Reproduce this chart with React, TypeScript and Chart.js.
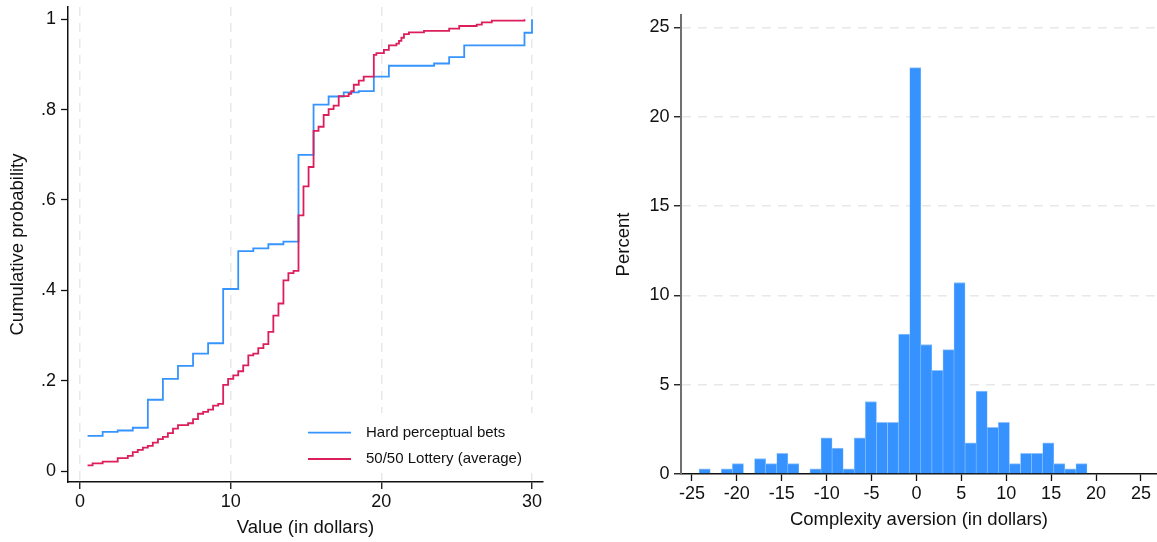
import { useEffect, useRef } from "react";
import { Chart, registerables } from "chart.js";

Chart.register(...registerables);

const FONT = "'Liberation Sans', Arial, Helvetica, sans-serif";
const INK = "#111111";
const BLUE = "#3594fd";
const RED = "#dc1e5b";
const BAR_FILL = "#3592ff";
const BAR_EDGE = "#8fc3ff";
const GRID = "#e8e8e8";

// ---- Left panel: empirical CDFs ----
const hardX = [0.5, 1.5, 2.5, 3.5, 4.5, 5.5, 6.5, 7.5, 8.5, 9.5, 10.5, 11.5, 12.5, 13.5, 14.5, 15.5, 16.5, 17.5, 18.5, 19.5, 20.5, 23.5, 24.5, 25.5, 29.5, 30];
const hardY = [0.078, 0.087, 0.09, 0.096, 0.158, 0.204, 0.233, 0.26, 0.283, 0.403, 0.487, 0.493, 0.502, 0.508, 0.7, 0.811, 0.829, 0.838, 0.841, 0.873, 0.897, 0.902, 0.916, 0.942, 0.97, 1.0];

const lotteryX = [0.5, 0.83, 1.5, 2.5, 3.17, 3.5, 3.83, 4.17, 4.5, 4.83, 5.17, 5.5, 5.83, 6.17, 6.5, 7.17, 7.5, 7.83, 8.17, 8.5, 8.83, 9.17, 9.5, 9.83, 10.17, 10.5, 10.83, 11.17, 11.5, 11.83, 12.17, 12.5, 12.83, 13.17, 13.5, 13.83, 14.17, 14.5, 14.83, 15.17, 15.5, 15.83, 16.17, 16.5, 16.83, 17.17, 17.83, 18.0, 18.17, 18.5, 18.83, 19.5, 19.67, 20.17, 20.5, 21.0, 21.17, 21.33, 21.5, 21.83, 22.83, 24.5, 25.17, 26.33, 26.67, 27.33, 29.5];
const lotteryY = [0.013, 0.017, 0.021, 0.029, 0.034, 0.042, 0.047, 0.052, 0.056, 0.063, 0.071, 0.076, 0.084, 0.094, 0.102, 0.106, 0.115, 0.127, 0.131, 0.136, 0.145, 0.149, 0.191, 0.204, 0.212, 0.221, 0.234, 0.256, 0.26, 0.272, 0.281, 0.308, 0.344, 0.371, 0.422, 0.438, 0.443, 0.566, 0.63, 0.673, 0.753, 0.762, 0.788, 0.801, 0.809, 0.83, 0.835, 0.841, 0.855, 0.864, 0.873, 0.921, 0.925, 0.932, 0.942, 0.946, 0.952, 0.959, 0.967, 0.971, 0.974, 0.979, 0.985, 0.988, 0.993, 0.997, 1.0];

const seriesLabels = ["Hard perceptual bets", "50/50 Lottery (average)"];
const cdfXTicks = [0, 10, 20, 30];
const cdfYTicks = [0, 0.2, 0.4, 0.6, 0.8, 1];
const cdfYTickLabels = ["0", ".2", ".4", ".6", ".8", "1"];

// ---- Right panel: histogram ----
const binCenters = [-23.58, -22.35, -21.11, -19.88, -18.65, -17.41, -16.18, -14.94, -13.71, -12.47, -11.24, -10.01, -8.77, -7.54, -6.3, -5.07, -3.84, -2.6, -1.37, -0.13, 1.1, 2.34, 3.57, 4.8, 6.04, 7.27, 8.51, 9.74, 10.97, 12.21, 13.44, 14.68, 15.91, 17.14, 18.38];
const binPercents = [0.29, 0, 0.29, 0.58, 0, 0.87, 0.58, 1.16, 0.58, 0, 0.29, 2.03, 1.45, 0.29, 2.03, 4.06, 2.9, 2.9, 7.83, 22.75, 7.25, 5.8, 6.96, 10.72, 1.74, 4.64, 2.61, 2.9, 0.58, 1.16, 1.16, 1.74, 0.58, 0.29, 0.58];
const histXTicks = [-25, -20, -15, -10, -5, 0, 5, 10, 15, 20, 25];
const histYTicks = [0, 5, 10, 15, 20, 25];

const tickFont = { family: FONT, size: 18, lineHeight: 1.2 };
const titleFont = { family: FONT, size: 18.5, lineHeight: 1.2 };

const insideLegend = {
  id: "insideLegend",
  beforeDatasetsDraw(chart: any) {
    const { ctx, chartArea } = chart;
    const right = chartArea.right;
    const bottom = chartArea.bottom;
    ctx.save();
    ctx.fillStyle = "#ffffff";
    ctx.fillRect(right - 247, bottom - 69, 246, 60);
    const rows = [bottom - 49.3, bottom - 23];
    chart.data.datasets.forEach((ds: any, i: number) => {
      const y = rows[i];
      ctx.strokeStyle = ds.borderColor;
      ctx.lineWidth = 1.8;
      ctx.beginPath();
      ctx.moveTo(right - 235, y);
      ctx.lineTo(right - 192, y);
      ctx.stroke();
      ctx.fillStyle = INK;
      ctx.font = `15px ${FONT}`;
      ctx.textAlign = "left";
      ctx.textBaseline = "middle";
      ctx.fillText(ds.label, right - 177, y);
    });
    ctx.restore();
  },
};

function CdfChart() {
  const ref = useRef<HTMLCanvasElement | null>(null);
  useEffect(() => {
    if (!ref.current) return;
    const chart = new Chart(ref.current, {
      type: "line",
      data: {
        datasets: [
          {
            label: seriesLabels[0],
            data: hardX.map((x, i) => ({ x, y: hardY[i] })),
            borderColor: BLUE,
            borderWidth: 1.8,
            stepped: "before",
            pointRadius: 0,
            fill: false,
            order: 1,
          },
          {
            label: seriesLabels[1],
            data: lotteryX.map((x, i) => ({ x, y: lotteryY[i] })),
            borderColor: RED,
            borderWidth: 1.8,
            stepped: "before",
            pointRadius: 0,
            fill: false,
            order: 0,
          },
        ],
      },
      options: {
        responsive: false,
        animation: false,
        devicePixelRatio: 1,
        layout: { padding: { left: 0, top: 7, right: 37, bottom: 0 } },
        plugins: { legend: { display: false }, tooltip: { enabled: false } },
        scales: {
          x: {
            type: "linear",
            min: -0.8,
            max: 30.73,
            afterBuildTicks: (s: any) => {
              s.ticks = cdfXTicks.map((v) => ({ value: v }));
            },
            afterFit: (s: any) => {
              s.height = 60;
              s.paddingLeft = 0;
              s.paddingRight = 0;
            },
            grid: { color: GRID, lineWidth: 1.5, tickColor: INK, tickLength: 7, tickWidth: 1.3, tickBorderDash: [] },
            border: { color: INK, width: 1.5, dash: [9, 7] },
            ticks: { font: tickFont, color: INK, padding: 2.2, maxRotation: 0, autoSkip: false },
            title: { display: true, text: "Value (in dollars)", font: titleFont, color: INK, padding: { top: 0, bottom: 2.9 } },
          },
          y: {
            type: "linear",
            min: -0.024,
            max: 1.027,
            afterBuildTicks: (s: any) => {
              s.ticks = cdfYTicks.map((v) => ({ value: v }));
            },
            afterFit: (s: any) => {
              s.width = 68;
              s.paddingTop = 0;
              s.paddingBottom = 0;
            },
            grid: { drawOnChartArea: false, color: INK, tickColor: INK, tickLength: 7, tickWidth: 1.3 },
            border: { color: INK, width: 1.5 },
            ticks: {
              font: tickFont,
              color: INK,
              padding: 5,
              autoSkip: false,
              callback: (v: any) => {
                const k = cdfYTicks.indexOf(Number(v));
                return k >= 0 ? cdfYTickLabels[k] : String(v);
              },
            },
            title: { display: true, text: "Cumulative probability", font: titleFont, color: INK, padding: { top: 6.6, bottom: 0 } },
          },
        },
      },
      plugins: [insideLegend],
    } as any);
    return () => chart.destroy();
  }, []);
  return (
    <canvas
      ref={ref}
      width={580}
      height={542}
      style={{ position: "absolute", left: 0, top: 0, width: 580, height: 542, display: "block" }}
    />
  );
}

function HistChart() {
  const ref = useRef<HTMLCanvasElement | null>(null);
  useEffect(() => {
    if (!ref.current) return;
    const chart = new Chart(ref.current, {
      type: "bar",
      data: {
        datasets: [
          {
            label: "Percent",
            data: binCenters.map((x, i) => ({ x, y: binPercents[i] })),
            backgroundColor: BAR_FILL,
            borderColor: BAR_EDGE,
            borderWidth: { top: 1, left: 0.6, right: 0.6, bottom: 0 },
            borderSkipped: false,
            barPercentage: 1,
            categoryPercentage: 1,
          },
        ],
      },
      options: {
        responsive: false,
        animation: false,
        devicePixelRatio: 1,
        layout: { padding: { left: 0, top: 15, right: 0, bottom: 0 } },
        plugins: { legend: { display: false }, tooltip: { enabled: false } },
        scales: {
          x: {
            type: "linear",
            min: -26.22,
            max: 26.79,
            offset: false,
            afterBuildTicks: (s: any) => {
              s.ticks = histXTicks.map((v) => ({ value: v }));
            },
            afterFit: (s: any) => {
              s.height = 68;
              s.paddingLeft = 0;
              s.paddingRight = 0;
            },
            grid: { offset: false, drawOnChartArea: false, color: INK, tickColor: INK, tickLength: 7, tickWidth: 1.3 },
            border: { color: INK, width: 1.5 },
            ticks: { font: tickFont, color: INK, padding: 2.2, maxRotation: 0, autoSkip: false },
            title: { display: true, text: "Complexity aversion (in dollars)", font: titleFont, color: INK, padding: { top: 0, bottom: 10.9 } },
          },
          y: {
            type: "linear",
            min: 0,
            max: 25.7,
            afterBuildTicks: (s: any) => {
              s.ticks = histYTicks.map((v) => ({ value: v }));
            },
            afterFit: (s: any) => {
              s.width = 101;
              s.paddingTop = 0;
              s.paddingBottom = 0;
            },
            grid: {
              color: (c: any) => (c.tick && c.tick.value === 0 ? "rgba(0,0,0,0)" : GRID),
              lineWidth: 1.5,
              tickColor: INK,
              tickLength: 7,
              tickWidth: 1.3,
              tickBorderDash: [],
            },
            border: { color: "#707070", width: 2, dash: [9, 7] },
            ticks: { font: tickFont, color: INK, padding: 4.5, autoSkip: false },
            title: { display: true, text: "Percent", font: titleFont, color: INK, padding: { top: 33, bottom: 0 } },
          },
        },
      },
    } as any);
    return () => chart.destroy();
  }, []);
  return (
    <canvas
      ref={ref}
      width={577}
      height={542}
      style={{ position: "absolute", left: 580, top: 0, width: 577, height: 542, display: "block" }}
    />
  );
}

export default function App() {
  return (
    <div style={{ position: "fixed", left: 0, top: 0, width: 1157, height: 542, background: "#ffffff", overflow: "hidden" }}>
      <CdfChart />
      <HistChart />
    </div>
  );
}
